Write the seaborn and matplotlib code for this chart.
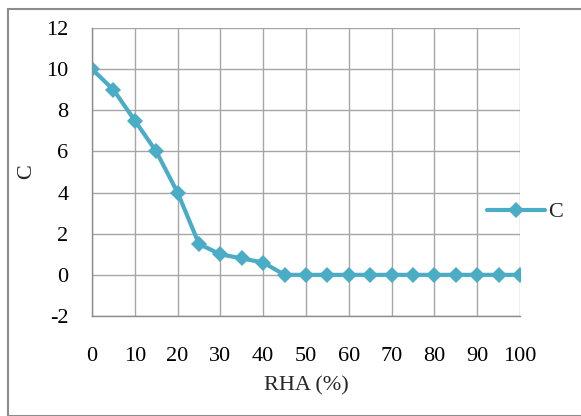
import matplotlib
matplotlib.use("Agg")
import matplotlib.pyplot as plt
import seaborn as sns
import pandas as pd
from matplotlib.patches import Rectangle

rha = [0, 5, 10, 15, 20, 25, 30, 35, 40, 45, 50, 55, 60, 65, 70, 75, 80, 85, 90, 95, 100]
c_values = [10, 9, 7.5, 6, 4, 1.5, 1.0, 0.8, 0.6, 0, 0, 0, 0, 0, 0, 0, 0, 0, 0, 0, 0]
x_ticks = [0, 10, 20, 30, 40, 50, 60, 70, 80, 90, 100]
y_ticks = [-2, 0, 2, 4, 6, 8, 10, 12]

df = pd.DataFrame({"RHA (%)": rha, "C": c_values, "series": "C"})

sns.set_theme(style="white")
plt.rcParams['font.family'] = ['Liberation Serif', 'DejaVu Serif']

fig = plt.figure(figsize=(5.81, 4.16), dpi=100)
ax = fig.add_axes([92/581, 1-316/416, (520-92)/581, (316-28)/416])

sns.lineplot(data=df, x="RHA (%)", y="C", hue="series", palette=["#4BACC6"],
             marker="D", markersize=8.5, linewidth=3, markeredgewidth=0, ax=ax)

ax.set_xlim(0, 100)
ax.set_ylim(-2, 12)
ax.set_xticks(x_ticks)
ax.set_yticks(y_ticks)
ax.set_yticklabels([str(v) for v in y_ticks])
ax.grid(True, color="#a6a6a6", linewidth=1)
for side in ["top", "right"]:
    ax.spines[side].set_visible(False)
for side in ["left", "bottom"]:
    ax.spines[side].set_color("#8c8c8c")
    ax.spines[side].set_linewidth(1)
ax.tick_params(axis="both", direction="out", length=7, width=1, color="#8c8c8c",
               labelsize=16, colors="black")
ax.tick_params(axis="y", pad=10)
ax.tick_params(axis="x", pad=15)
ax.set_xlabel("RHA (%)", fontsize=16, labelpad=8)
ax.set_ylabel("C", fontsize=16, labelpad=7)
for lbl in ax.get_xticklabels() + ax.get_yticklabels():
    lbl.set_color("black")

leg = ax.legend(loc="center left", bbox_to_anchor=(478/581, 1-212/416),
                bbox_transform=fig.transFigure, frameon=False,
                fontsize=16, handlelength=2.6, handletextpad=0.15, borderaxespad=0)

fig.patches.append(Rectangle((8/581, 0), 1, 1-9/416, transform=fig.transFigure,
                             fill=False, edgecolor="#8c8c8c", linewidth=1.5))

fig.savefig("out.png", dpi=100)
